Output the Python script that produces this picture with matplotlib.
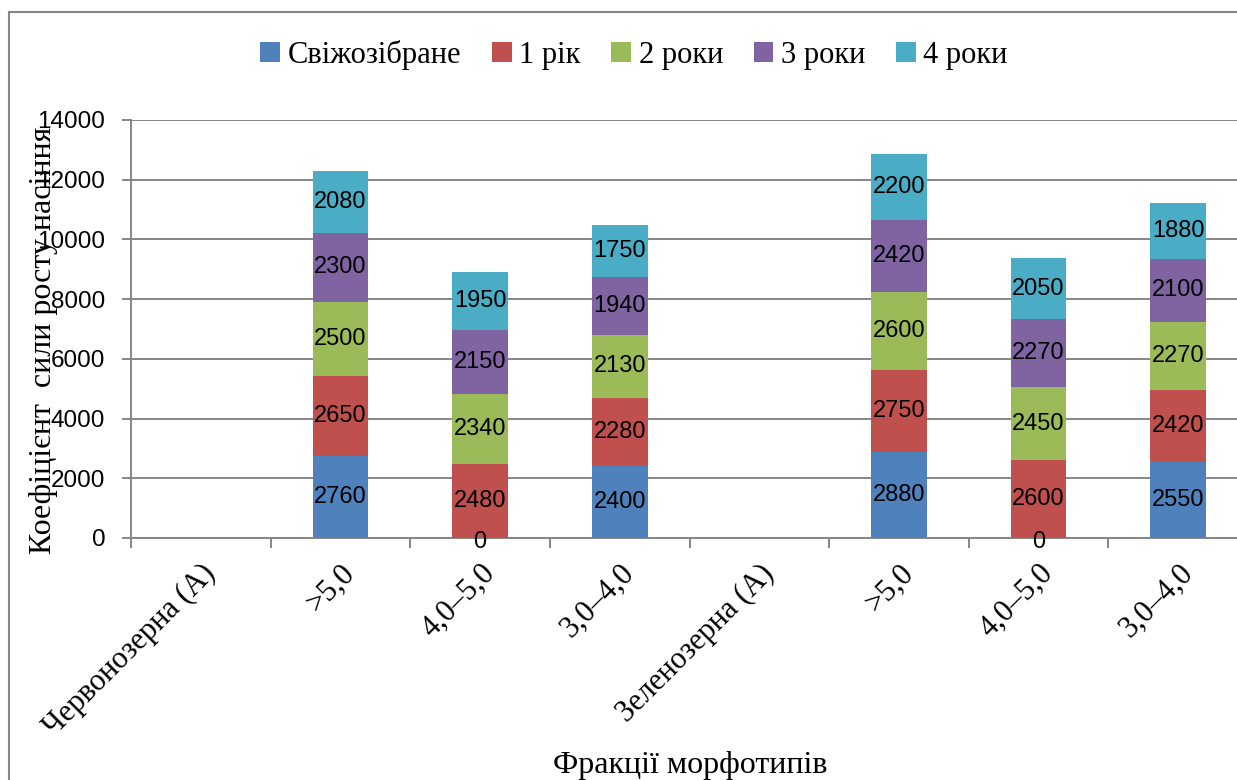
import matplotlib
matplotlib.use("Agg")
import matplotlib.pyplot as plt
from matplotlib.patches import Rectangle
import numpy as np

categories = ["Червонозерна (А)", ">5,0", "4,0–5,0", "3,0–4,0",
              "Зеленозерна (А)", ">5,0", "4,0–5,0", "3,0–4,0"]
series_names = ["Свіжозібране", "1 рік", "2 роки", "3 роки", "4 роки"]
fresh = [None, 2760, 0, 2400, None, 2880, 0, 2550]
year1 = [None, 2650, 2480, 2280, None, 2750, 2600, 2420]
year2 = [None, 2500, 2340, 2130, None, 2600, 2450, 2270]
year3 = [None, 2300, 2150, 1940, None, 2420, 2270, 2100]
year4 = [None, 2080, 1950, 1750, None, 2200, 2050, 1880]
colors = ["#4F81BD", "#C0504D", "#9BBB59", "#8064A2", "#4BACC6"]

W, H = 1237, 780
fig = plt.figure(figsize=(W / 100, H / 100), dpi=100)

# outer chart border
fig.patches.append(Rectangle((9 / W, -0.05), 1.2, 1 - 12 / H + 0.05,
                             transform=fig.transFigure, fill=False,
                             edgecolor="#868686", linewidth=1.5))

ax_left, ax_right, ax_top, ax_bot = 131, 1248, 120, 538
ax = fig.add_axes([ax_left / W, 1 - ax_bot / H, (ax_right - ax_left) / W,
                   (ax_bot - ax_top) / H])

x = np.arange(len(categories))
bottom = np.zeros(len(categories))
serif = "Liberation Serif"
sans = "Liberation Sans"
for name, vals, col in zip(series_names, [fresh, year1, year2, year3, year4], colors):
    v = np.array([0 if a is None else a for a in vals], dtype=float)
    ax.bar(x, v, 0.4, bottom=bottom, color=col, label=name, zorder=3)
    for i, a in enumerate(vals):
        if a is None:
            continue
        yc = bottom[i] + a / 2 if a > 0 else bottom[i] - 120
        ax.text(x[i], yc, f"{a}", ha="center", va="center",
                fontsize=17, family=sans, color="black", zorder=4, clip_on=False)
    bottom += v

ax.set_xlim(-0.5, len(categories) - 0.5)
ax.set_ylim(0, 14000)
ax.set_yticks(np.arange(0, 14001, 2000))
ax.set_yticklabels([str(t) for t in range(0, 14001, 2000)], family=sans, fontsize=17.5)
ax.yaxis.grid(True, color="#868686", linewidth=1.4, zorder=0)
ax.set_axisbelow(True)
for s in ["top", "right"]:
    ax.spines[s].set_visible(False)
for s in ["left", "bottom"]:
    ax.spines[s].set_color("#868686")
    ax.spines[s].set_linewidth(1.4)
ax.tick_params(axis="y", length=6.5, width=1.4, color="#868686", pad=12)
ax.set_xticks(x)
ax.set_xticklabels(categories, rotation=45, ha="right", va="top",
                   rotation_mode="anchor", family=serif, fontsize=22)
ax.tick_params(axis="x", length=0, pad=15)
ax.set_xticks(np.arange(-0.5, len(categories), 1), minor=True)
ax.tick_params(axis="x", which="minor", length=7, width=1.4, color="#868686")

fig.text(44 / W, 1 - 340 / H, "Коефіцієнт  сили росту насіння", rotation=90,
         ha="center", va="center", family=serif, fontsize=23)
fig.text(690 / W, 1 - 766 / H, "Фракції морфотипів", ha="center", va="center",
         family=serif, fontsize=23)

handles, labels = ax.get_legend_handles_labels()
fig.legend(handles, labels, loc="center", bbox_to_anchor=(634 / W, 1 - 55 / H),
           ncol=5, frameon=False, prop={"family": serif, "size": 22},
           handlelength=0.65, handleheight=0.65, handletextpad=0.25,
           columnspacing=1.0)

fig.savefig("out.png", dpi=100)
